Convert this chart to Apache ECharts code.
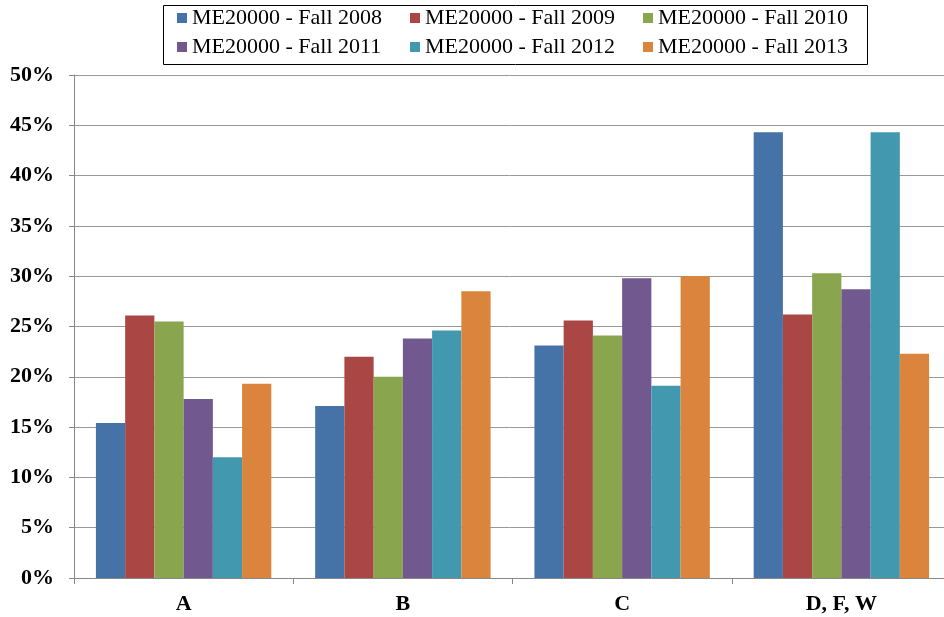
<!DOCTYPE html>
<html>
<head>
<meta charset="utf-8">
<script src="https://cdn.jsdelivr.net/npm/echarts@6/dist/echarts.min.js"></script>
<style>html,body{margin:0;padding:0;background:#fff;overflow:hidden}#c{width:944px;height:617px}</style>
</head>
<body>
<div id="c"></div>
<script>
const categories = ['A', 'B', 'C', 'D, F, W'];
const seriesNames = ['ME20000 - Fall 2008','ME20000 - Fall 2009','ME20000 - Fall 2010','ME20000 - Fall 2011','ME20000 - Fall 2012','ME20000 - Fall 2013'];
const fall2008 = [15.4, 17.1, 23.1, 44.3];
const fall2009 = [26.1, 22.0, 25.6, 26.2];
const fall2010 = [25.5, 20.0, 24.1, 30.3];
const fall2011 = [17.8, 23.8, 29.8, 28.7];
const fall2012 = [12.0, 24.6, 19.1, 44.3];
const fall2013 = [19.3, 28.5, 30.0, 22.3];
const yTicks = { min: 0, max: 50, interval: 5 };

const colors = ['#4572A7','#AA4643','#89A54E','#71588F','#4198AF','#DB843D'];
const allData = [fall2008, fall2009, fall2010, fall2011, fall2012, fall2013];
const font = '"Liberation Serif", "Times New Roman", serif';

const chart = echarts.init(document.getElementById('c'));
const legendText = { fontFamily: font, fontSize: 22, color: '#000', width: 200, lineHeight: 22 };
const legendBase = { itemWidth: 10, itemHeight: 10, itemGap: 18, icon: 'rect', textStyle: legendText, left: 172 };
chart.setOption({
  animation: false,
  color: colors,
  textStyle: { fontFamily: font },
  graphic: [{
    type: 'rect', left: 161, top: 3,
    shape: { width: 704, height: 59 },
    style: { fill: 'none', stroke: '#000', lineWidth: 1 }
  }],
  legend: [
    Object.assign({ data: seriesNames.slice(0, 3), top: 2 }, legendBase),
    Object.assign({ data: seriesNames.slice(3, 6), top: 31 }, legendBase)
  ],
  grid: { left: 74, width: 877, top: 75, bottom: 39, containLabel: false, outerBoundsMode: 'none' },
  xAxis: {
    type: 'category', data: categories,
    axisLine: { lineStyle: { color: '#888' } },
    axisTick: { show: true, length: 6, lineStyle: { color: '#888' } },
    axisLabel: { fontFamily: font, fontSize: 22, fontWeight: 'bold', color: '#000', margin: 15 }
  },
  yAxis: {
    type: 'value', min: yTicks.min, max: yTicks.max, interval: yTicks.interval,
    axisLine: { show: true, lineStyle: { color: '#888' } },
    axisTick: { show: true, length: 5, lineStyle: { color: '#888' } },
    splitLine: { lineStyle: { color: '#999' } },
    axisLabel: { formatter: '{value}%', fontFamily: font, fontSize: 22, fontWeight: 'bold', color: '#000', margin: 20 }
  },
  series: seriesNames.map((n, i) => ({
    name: n, type: 'bar', data: allData[i],
    barGap: '0%', barCategoryGap: '20%',
    itemStyle: { color: colors[i] }
  }))
});
</script>
</body>
</html>
